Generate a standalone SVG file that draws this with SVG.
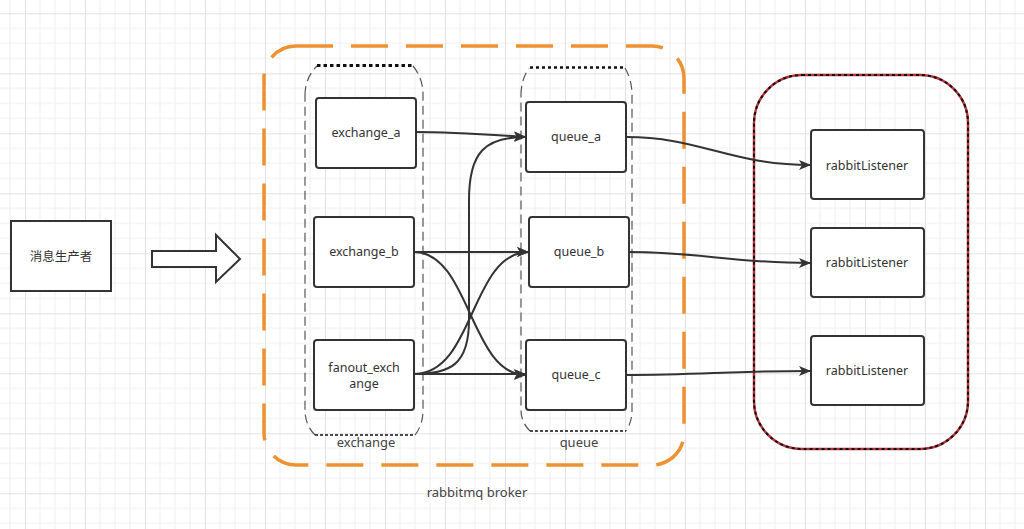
<svg xmlns="http://www.w3.org/2000/svg" width="1024" height="529" viewBox="0 0 1024 529">
<defs>
<pattern id="grid" patternUnits="userSpaceOnUse" x="25" y="13.3" width="60" height="60">
<path d="M15 0V60M30 0V60M45 0V60M0 15H60M0 30H60M0 45H60" stroke="#efefef" stroke-width="1" fill="none"/>
<path d="M0.5 0V60M0 0.5H60" stroke="#e2e2e2" stroke-width="1" fill="none"/>
</pattern>
<marker id="arr" viewBox="0 0 12 10" refX="12" refY="5" markerWidth="12" markerHeight="10" markerUnits="userSpaceOnUse" orient="auto">
<path d="M0 0L12 5L0 10L3 5Z" fill="#333"/>
</marker>
<style>
.node{fill:#fff;stroke:#333;stroke-width:2}
.lbl{font-family:"Noto Sans","Liberation Sans","Noto Sans CJK SC",sans-serif;font-size:12.5px;fill:#333;text-anchor:middle}
.glbl{font-family:"Noto Sans","Liberation Sans",sans-serif;font-size:13px;fill:#444;text-anchor:middle}
.edge{fill:none;stroke:#333;stroke-width:2;marker-end:url(#arr)}
</style>
</defs>
<rect width="1024" height="529" fill="#fff"/>
<rect width="1024" height="529" fill="url(#grid)"/>

<g id="broker">
<rect x="264" y="46" width="420" height="419" rx="32" fill="none" stroke="#EE9130" stroke-width="3.5" stroke-dasharray="37 18"/>
<text class="glbl" x="477" y="497">rabbitmq broker</text>
</g>

<g id="exchange-group">
<path d="M305 95 Q305 78 317 66 M413 66 Q423 78 423 95 V410 Q423 425 415 435 M315 435 Q305 425 305 410 V95" fill="none" stroke="#555" stroke-width="1.2" stroke-dasharray="9 5"/>
<path d="M317 65.5 H413" fill="none" stroke="#111" stroke-width="3" stroke-dasharray="3.5 3"/>
<path d="M315 435 H415" fill="none" stroke="#111" stroke-width="1.5" stroke-dasharray="3 2"/>
<text class="glbl" x="366" y="447">exchange</text>
</g>

<g id="queue-group">
<path d="M521 95 Q521 80 529 68 M625 68 Q632 80 632 95 V410 Q632 422 626 431 M530 431 Q521 422 521 410 V95" fill="none" stroke="#555" stroke-width="1.2" stroke-dasharray="9 5"/>
<path d="M530 67.5 H625" fill="none" stroke="#111" stroke-width="2.5" stroke-dasharray="3 3"/>
<path d="M530 431 H626" fill="none" stroke="#111" stroke-width="1.5" stroke-dasharray="3 2"/>
<text class="glbl" x="579" y="447">queue</text>
</g>

<g id="listener-group">
<rect x="754" y="75" width="214" height="374" rx="48" fill="none" stroke="#B8323A" stroke-width="2.5"/>
<rect x="754" y="75" width="214" height="374" rx="48" fill="none" stroke="#111" stroke-width="2" stroke-dasharray="3 3"/>
</g>

<g id="producer">
<rect class="node" x="11" y="221" width="100" height="70"/>
<text class="lbl" x="61" y="261">消息生产者</text>
</g>

<g id="big-arrow">
<path d="M152 251 H216 V235 L240 259 L216 282 V267 H152 Z" fill="#fff" stroke="#333" stroke-width="2"/>
</g>

<g id="exchange_a">
<rect class="node" x="316" y="98" width="100" height="70" rx="3"/>
<text class="lbl" x="366" y="137">exchange_a</text>
</g>
<g id="exchange_b">
<rect class="node" x="314" y="217" width="100" height="70" rx="3"/>
<text class="lbl" x="364" y="256">exchange_b</text>
</g>
<g id="fanout_exchange">
<rect class="node" x="314" y="340" width="100" height="70" rx="3"/>
<text class="lbl" x="364" y="372">fanout_exch</text>
<text class="lbl" x="364" y="388">ange</text>
</g>
<g id="queue_a">
<rect class="node" x="526" y="102" width="100" height="70" rx="3"/>
<text class="lbl" x="576" y="141">queue_a</text>
</g>
<g id="queue_b">
<rect class="node" x="529" y="217" width="100" height="70" rx="3"/>
<text class="lbl" x="579" y="256">queue_b</text>
</g>
<g id="queue_c">
<rect class="node" x="526" y="340" width="100" height="70" rx="3"/>
<text class="lbl" x="576" y="379">queue_c</text>
</g>
<g id="listener1">
<rect class="node" x="811" y="130" width="113" height="69" rx="3"/>
<text class="lbl" x="867" y="170">rabbitListener</text>
</g>
<g id="listener2">
<rect class="node" x="811" y="228" width="113" height="69" rx="3"/>
<text class="lbl" x="867" y="267">rabbitListener</text>
</g>
<g id="listener3">
<rect class="node" x="811" y="336" width="113" height="69" rx="3"/>
<text class="lbl" x="867" y="375">rabbitListener</text>
</g>

<g id="connectors">
<path class="edge" d="M416 132 C450 132 480 134 526 137"/>
<path class="edge" d="M414 252 H529"/>
<path class="edge" d="M414 252 C470 252 470 375 526 375"/>
<path class="edge" d="M414 374 C450 374 469 365 469 320 V200 C469 152 485 137 526 137"/>
<path class="edge" d="M414 374 C475 374 470 252 529 252"/>
<path class="edge" d="M414 374 H526"/>
<path class="edge" d="M626 137 C700 137 730 165 811 165"/>
<path class="edge" d="M629 252 C700 252 730 263 811 263"/>
<path class="edge" d="M626 375 C700 375 730 371 811 371"/>
</g>
</svg>
